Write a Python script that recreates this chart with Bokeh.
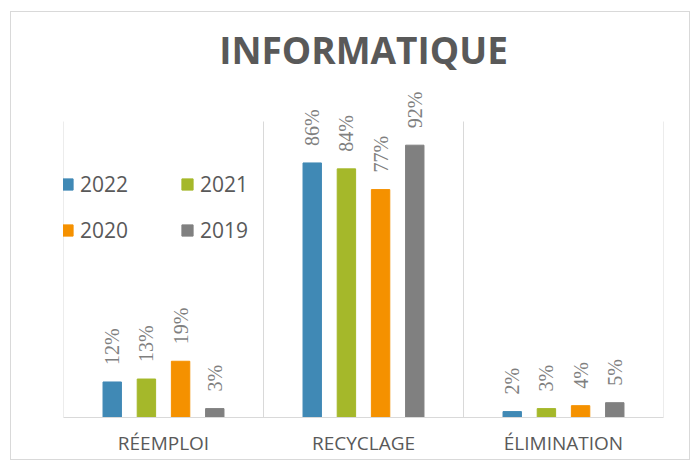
import math
from bokeh.plotting import figure
from bokeh.models import (ColumnDataSource, LabelSet, Label, Legend, LegendItem,
                          FixedTicker, Range1d)
from bokeh.embed import file_html
from bokeh.resources import INLINE

title_text = "INFORMATIQUE"
categories = ["RÉEMPLOI", "RECYCLAGE", "ÉLIMINATION"]
years = ["2022", "2021", "2020", "2019"]
values_2022 = [12, 86, 2]
values_2021 = [13, 84, 3]
values_2020 = [19, 77, 4]
values_2019 = [3, 92, 5]
series = [values_2022, values_2021, values_2020, values_2019]
colors = ["#4089B5", "#A5B82A", "#F59100", "#808080"]

FONT = "Open Sans"
step = 0.1709
bar_w = 0.092

FIG_W, FIG_H = 680, 449
BOTTOM = 44
frame_h = FIG_H - BOTTOM           # frame spans from figure top to axis
axis_top = 100                      # value axis maximum of the original chart
px_per_100 = 296                    # pixel height of 0..100
ymax = frame_h / px_per_100 * axis_top

p = figure(width=FIG_W, height=FIG_H, output_backend="svg", toolbar_location=None,
           x_range=Range1d(0, 3), y_range=Range1d(0, ymax),
           min_border_left=52, min_border_right=28, min_border_top=0,
           min_border_bottom=BOTTOM)
p.styles = {"border": "1px solid #d9d9d9", "margin-left": "10px", "margin-top": "11px"}
p.outline_line_color = None
p.xgrid.visible = False
p.ygrid.visible = False
p.yaxis.visible = False
p.background_fill_color = "white"
p.border_fill_color = "white"

# separators between categories
bounds = list(range(len(categories) + 1))
p.segment(x0=bounds, y0=[0] * len(bounds), x1=bounds, y1=[axis_top] * len(bounds),
          line_color="#d9d9d9", line_width=1)

renderers = []
for j, (yr, vals, col) in enumerate(zip(years, series, colors)):
    xs = [i + 0.5 + (j - 1.5) * step for i in range(len(categories))]
    src = ColumnDataSource(dict(x=xs, top=vals, lab=[f"{v}%" for v in vals]))
    r = p.vbar(x="x", top="top", width=bar_w, bottom=0, source=src,
               fill_color=col, line_color=col)
    renderers.append((yr, r))
    labels = LabelSet(x="x", y="top", text="lab", source=src, angle=math.pi / 2,
                      text_align="left", text_baseline="middle", y_offset=17,
                      text_font=FONT, text_font_size="20px", text_color="#7f7f7f")
    p.add_layout(labels)

# x axis
p.xaxis.ticker = FixedTicker(ticks=[i + 0.5 for i in range(len(categories))])
p.xaxis.major_label_overrides = {i + 0.5: c for i, c in enumerate(categories)}
p.xaxis.major_tick_in = 0
p.xaxis.major_tick_out = 0
p.xaxis.minor_tick_in = 0
p.xaxis.minor_tick_out = 0
p.xaxis.axis_line_color = "#d9d9d9"
p.xaxis.major_label_text_font = FONT
p.xaxis.major_label_text_font_size = "19px"
p.xaxis.major_label_text_color = "#595959"
p.xaxis.major_label_standoff = 12

# title
title = Label(x=1.5, y=124.3, text=title_text, text_align="center",
              text_baseline="middle", text_font=FONT, text_font_size="37px",
              text_font_style="bold", text_color="#595959")
p.add_layout(title)

legend = Legend(items=[LegendItem(label=yr, renderers=[r]) for yr, r in renderers],
                location=(-3, 173), orientation="horizontal", ncols=2,
                background_fill_alpha=0, border_line_color=None,
                label_text_font=FONT, label_text_font_size="21px",
                label_text_color="#595959", glyph_width=14, glyph_height=14,
                label_height=24, label_width=82, label_standoff=6, spacing=18,
                padding=0, margin=0)
p.add_layout(legend)

open("out.html", "w").write(file_html(p, INLINE))
